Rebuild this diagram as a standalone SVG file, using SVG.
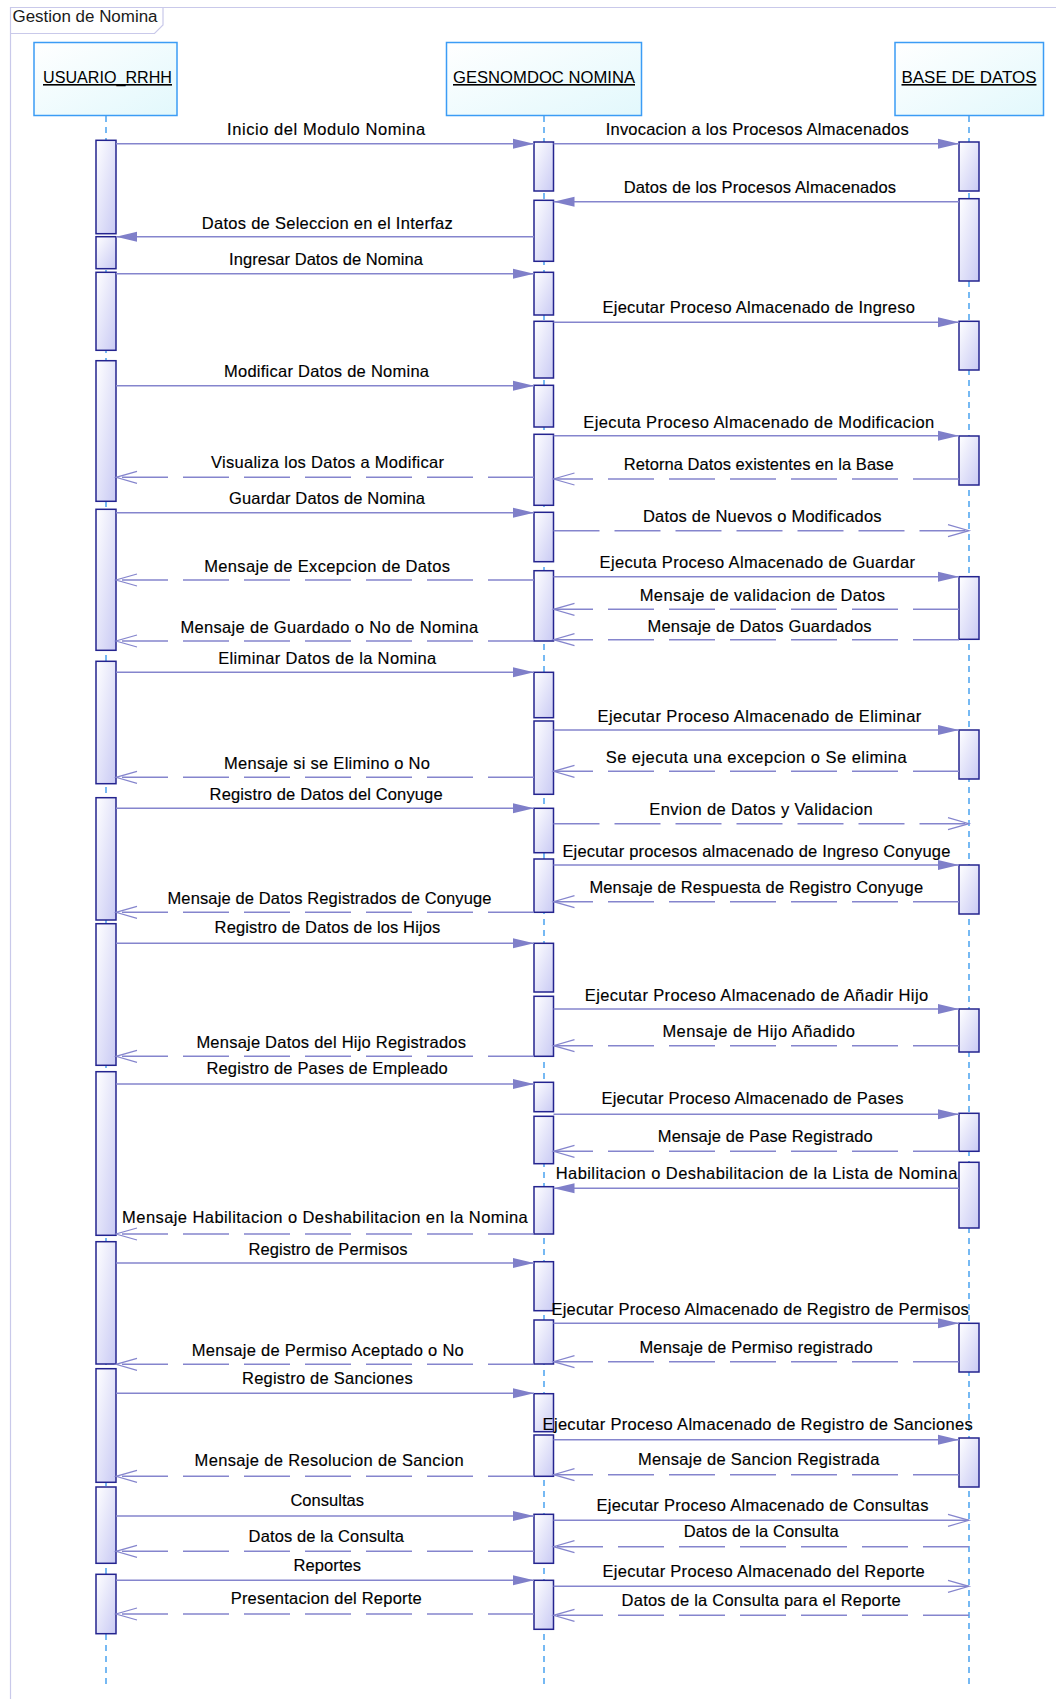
<svg xmlns="http://www.w3.org/2000/svg" width="1056" height="1699" viewBox="0 0 1056 1699">
<style>
.frame{fill:none;stroke:#c9c9ea;stroke-width:1.2}
.title{font-family:"Liberation Sans",Arial,sans-serif;font-size:16px;fill:#1a1a1a}
.hname{font-family:"Liberation Sans",Arial,sans-serif;font-size:16px;fill:#000;text-decoration:underline}
.head{fill:url(#gh);stroke:#3b9cf5;stroke-width:1.5}
.life{stroke:#4aa3f0;stroke-width:1.5;stroke-dasharray:6 5;fill:none}
.bar{fill:url(#gb);stroke:#24248f;stroke-width:1.5}
.msg{stroke:#8585cd;stroke-width:1.5;fill:none}
.sync{marker-end:url(#mf)}
.ret{stroke-dasharray:46 15;marker-end:url(#mo)}
.open{marker-end:url(#mo)}
.lbl{font-family:"Liberation Sans",Arial,sans-serif;font-size:16.5px;fill:#000;stroke:#000;stroke-width:0.15}
</style>
<defs>
<linearGradient id="gh" x1="0" y1="0" x2="1" y2="1"><stop offset="0" stop-color="#ffffff"/><stop offset="1" stop-color="#e2f8fc"/></linearGradient>
<linearGradient id="gb" x1="0" y1="0" x2="1" y2="1"><stop offset="0" stop-color="#ffffff"/><stop offset="1" stop-color="#c9caf4"/></linearGradient>
<marker id="mf" markerUnits="userSpaceOnUse" markerWidth="24" markerHeight="12" refX="21" refY="5" orient="auto" overflow="visible"><path d="M0,0 L21,5 L0,10 z" fill="#7f7fc9"/></marker>
<marker id="mo" markerUnits="userSpaceOnUse" markerWidth="24" markerHeight="14" refX="21" refY="7" orient="auto" overflow="visible"><path d="M0,1 L21,7 L0,13" fill="none" stroke="#8585cd" stroke-width="1.2"/></marker>
</defs>
<rect width="1056" height="1699" fill="#ffffff"/>
<g id="frame">
<path class="frame" d="M10.5,1699 L10.5,7.5 L1056,7.5"/>
<path class="frame" d="M10.5,33.5 L154.5,33.5 L163,25 L163,7.5"/>
<text class="title" x="12.5" y="22" textLength="145" lengthAdjust="spacingAndGlyphs">Gestion de Nomina</text>
</g>
<g id="usuario_rrhh">
<rect class="head" x="34" y="42.5" width="143" height="73"/>
<text class="hname" x="43" y="83" textLength="129" lengthAdjust="spacingAndGlyphs">USUARIO_RRHH</text>
<line class="life" x1="106" y1="116" x2="106" y2="1687"/>
<rect class="bar" x="96" y="140.3" width="20" height="93.4"/>
<rect class="bar" x="96" y="236.7" width="20" height="32"/>
<rect class="bar" x="96" y="272.3" width="20" height="78"/>
<rect class="bar" x="96" y="360.7" width="20" height="140.6"/>
<rect class="bar" x="96" y="509.3" width="20" height="141"/>
<rect class="bar" x="96" y="661.3" width="20" height="122.4"/>
<rect class="bar" x="96" y="797.7" width="20" height="122.3"/>
<rect class="bar" x="96" y="923.7" width="20" height="141.6"/>
<rect class="bar" x="96" y="1071.7" width="20" height="163.6"/>
<rect class="bar" x="96" y="1241.7" width="20" height="122.3"/>
<rect class="bar" x="96" y="1368.7" width="20" height="113.6"/>
<rect class="bar" x="96" y="1487" width="20" height="76.3"/>
<rect class="bar" x="96" y="1574.3" width="20" height="59.4"/>
</g>
<g id="gesnomdoc_nomina">
<rect class="head" x="446.5" y="42.5" width="195" height="73"/>
<text class="hname" x="453" y="83" textLength="182" lengthAdjust="spacingAndGlyphs">GESNOMDOC NOMINA</text>
<line class="life" x1="544" y1="116" x2="544" y2="1687"/>
<rect class="bar" x="534" y="142" width="19.5" height="49"/>
<rect class="bar" x="534" y="200.3" width="19.5" height="61"/>
<rect class="bar" x="534" y="272.3" width="19.5" height="42.7"/>
<rect class="bar" x="534" y="321.3" width="19.5" height="56.7"/>
<rect class="bar" x="534" y="385.3" width="19.5" height="41.7"/>
<rect class="bar" x="534" y="434.3" width="19.5" height="71"/>
<rect class="bar" x="534" y="512.3" width="19.5" height="49.4"/>
<rect class="bar" x="534" y="570.7" width="19.5" height="70.3"/>
<rect class="bar" x="534" y="672.3" width="19.5" height="45.4"/>
<rect class="bar" x="534" y="721" width="19.5" height="73.3"/>
<rect class="bar" x="534" y="808.3" width="19.5" height="44.4"/>
<rect class="bar" x="534" y="859" width="19.5" height="53.3"/>
<rect class="bar" x="534" y="943.3" width="19.5" height="48.7"/>
<rect class="bar" x="534" y="996.3" width="19.5" height="60"/>
<rect class="bar" x="534" y="1082.3" width="19.5" height="29.4"/>
<rect class="bar" x="534" y="1116.3" width="19.5" height="47.4"/>
<rect class="bar" x="534" y="1186.7" width="19.5" height="47.3"/>
<rect class="bar" x="534" y="1261.7" width="19.5" height="49"/>
<rect class="bar" x="534" y="1320" width="19.5" height="44"/>
<rect class="bar" x="534" y="1393.7" width="19.5" height="38"/>
<rect class="bar" x="534" y="1435" width="19.5" height="41.3"/>
<rect class="bar" x="534" y="1514.3" width="19.5" height="49"/>
<rect class="bar" x="534" y="1580.3" width="19.5" height="49"/>
</g>
<g id="base_de_datos">
<rect class="head" x="895" y="42.5" width="148.5" height="73"/>
<text class="hname" x="901.5" y="83" textLength="135" lengthAdjust="spacingAndGlyphs">BASE DE DATOS</text>
<line class="life" x1="969" y1="116" x2="969" y2="1687"/>
<rect class="bar" x="959" y="142" width="20" height="49"/>
<rect class="bar" x="959" y="198.7" width="20" height="82.3"/>
<rect class="bar" x="959" y="321.3" width="20" height="48.7"/>
<rect class="bar" x="959" y="436" width="20" height="49"/>
<rect class="bar" x="959" y="576.7" width="20" height="62.6"/>
<rect class="bar" x="959" y="730" width="20" height="49"/>
<rect class="bar" x="959" y="865" width="20" height="49"/>
<rect class="bar" x="959" y="1009" width="20" height="43"/>
<rect class="bar" x="959" y="1113.3" width="20" height="38"/>
<rect class="bar" x="959" y="1162.3" width="20" height="65.7"/>
<rect class="bar" x="959" y="1323.3" width="20" height="48.7"/>
<rect class="bar" x="959" y="1438" width="20" height="49"/>
</g>
<g id="connectors">
<path class="msg sync" d="M116,143.7 L534,143.7"/><text class="lbl" x="227.1" y="135" textLength="198">Inicio del Modulo Nomina</text>
<path class="msg sync" d="M534,236.7 L116,236.7"/><text class="lbl" x="201.8" y="229" textLength="251">Datos de Seleccion en el Interfaz</text>
<path class="msg sync" d="M116,273.7 L534,273.7"/><text class="lbl" x="229" y="265" textLength="194">Ingresar Datos de Nomina</text>
<path class="msg sync" d="M116,385.7 L534,385.7"/><text class="lbl" x="224" y="376.7" textLength="205">Modificar Datos de Nomina</text>
<path class="msg ret" d="M534,477.3 L116,477.3"/><text class="lbl" x="211" y="468.3" textLength="233">Visualiza los Datos a Modificar</text>
<path class="msg sync" d="M116,512.7 L534,512.7"/><text class="lbl" x="229" y="504" textLength="196">Guardar Datos de Nomina</text>
<path class="msg ret" d="M534,580 L116,580"/><text class="lbl" x="204.3" y="571.7" textLength="245.7">Mensaje de Excepcion de Datos</text>
<path class="msg ret" d="M534,641 L116,641"/><text class="lbl" x="180.4" y="632.7" textLength="297.8">Mensaje de Guardado o No de Nomina</text>
<path class="msg sync" d="M116,672.3 L534,672.3"/><text class="lbl" x="218.2" y="664" textLength="218">Eliminar Datos de la Nomina</text>
<path class="msg ret" d="M534,777.3 L116,777.3"/><text class="lbl" x="224" y="769" textLength="206">Mensaje si se Elimino o No</text>
<path class="msg sync" d="M116,808.3 L534,808.3"/><text class="lbl" x="209.6" y="800" textLength="233">Registro de Datos del Conyuge</text>
<path class="msg ret" d="M534,912.3 L116,912.3"/><text class="lbl" x="167.5" y="904" textLength="324">Mensaje de Datos Registrados de Conyuge</text>
<path class="msg sync" d="M116,943.3 L534,943.3"/><text class="lbl" x="214.6" y="932.7" textLength="225.7">Registro de Datos de los Hijos</text>
<path class="msg ret" d="M534,1056.3 L116,1056.3"/><text class="lbl" x="196.4" y="1048" textLength="269.6">Mensaje Datos del Hijo Registrados</text>
<path class="msg sync" d="M116,1084 L534,1084"/><text class="lbl" x="206.4" y="1074" textLength="241.4">Registro de Pases de Empleado</text>
<path class="msg ret" d="M534,1234 L116,1234"/><text class="lbl" x="122.1" y="1223.3" textLength="405.7">Mensaje Habilitacion o Deshabilitacion en la Nomina</text>
<path class="msg sync" d="M116,1263 L534,1263"/><text class="lbl" x="248.6" y="1255" textLength="159">Registro de Permisos</text>
<path class="msg ret" d="M534,1364.3 L116,1364.3"/><text class="lbl" x="191.8" y="1355.7" textLength="272">Mensaje de Permiso Aceptado o No</text>
<path class="msg sync" d="M116,1393.3 L534,1393.3"/><text class="lbl" x="242" y="1384" textLength="170.7">Registro de Sanciones</text>
<path class="msg ret" d="M534,1476.3 L116,1476.3"/><text class="lbl" x="194.6" y="1466" textLength="269">Mensaje de Resolucion de Sancion</text>
<path class="msg sync" d="M116,1516 L534,1516"/><text class="lbl" x="290.4" y="1505.7" textLength="73.6">Consultas</text>
<path class="msg ret" d="M534,1551.3 L116,1551.3"/><text class="lbl" x="248.6" y="1542" textLength="155.4">Datos de la Consulta</text>
<path class="msg sync" d="M116,1580.3 L534,1580.3"/><text class="lbl" x="293.6" y="1570.7" textLength="67.5">Reportes</text>
<path class="msg ret" d="M534,1614 L116,1614"/><text class="lbl" x="230.7" y="1604" textLength="191">Presentacion del Reporte</text>

<path class="msg sync" d="M553.5,143.7 L959,143.7"/><text class="lbl" x="605.7" y="135" textLength="303">Invocacion a los Procesos Almacenados</text>
<path class="msg sync" d="M959,201.7 L553.5,201.7"/><text class="lbl" x="623.8" y="192.7" textLength="272.3">Datos de los Procesos Almacenados</text>
<path class="msg sync" d="M553.5,322.3 L959,322.3"/><text class="lbl" x="602.5" y="313.3" textLength="312.4">Ejecutar Proceso Almacenado de Ingreso</text>
<path class="msg sync" d="M553.5,435.7 L959,435.7"/><text class="lbl" x="583.3" y="427.7" textLength="351">Ejecuta Proceso Almacenado de Modificacion</text>
<path class="msg ret" d="M959,479 L553.5,479"/><text class="lbl" x="623.8" y="470" textLength="269.8">Retorna Datos existentes en la Base</text>
<path class="msg ret" d="M553.5,530.7 L969,530.7"/><text class="lbl" x="642.9" y="522.3" textLength="238.7">Datos de Nuevos o Modificados</text>
<path class="msg sync" d="M553.5,576.7 L959,576.7"/><text class="lbl" x="599.6" y="568.3" textLength="315.3">Ejecuta Proceso Almacenado de Guardar</text>
<path class="msg ret" d="M959,609.3 L553.5,609.3"/><text class="lbl" x="639.7" y="600.7" textLength="245.4">Mensaje de validacion de Datos</text>
<path class="msg ret" d="M959,639.7 L553.5,639.7"/><text class="lbl" x="647.5" y="631.7" textLength="224.1">Mensaje de Datos Guardados</text>
<path class="msg sync" d="M553.5,730 L959,730"/><text class="lbl" x="597.5" y="721.7" textLength="323.8">Ejecutar Proceso Almacenado de Eliminar</text>
<path class="msg ret" d="M959,771.3 L553.5,771.3"/><text class="lbl" x="605.7" y="762.7" textLength="301">Se ejecuta una excepcion o Se elimina</text>
<path class="msg ret" d="M553.5,823.7 L969,823.7"/><text class="lbl" x="649.3" y="814.7" textLength="223.4">Envion de Datos y Validacion</text>
<path class="msg sync" d="M553.5,865 L959,865"/><text class="lbl" x="562.4" y="856.7" textLength="388">Ejecutar procesos almacenado de Ingreso Conyuge</text>
<path class="msg ret" d="M959,901.7 L553.5,901.7"/><text class="lbl" x="589.4" y="892.7" textLength="333.7">Mensaje de Respuesta de Registro Conyuge</text>
<path class="msg sync" d="M553.5,1009 L959,1009"/><text class="lbl" x="584.8" y="1000.7" textLength="343.3">Ejecutar Proceso Almacenado de Añadir Hijo</text>
<path class="msg ret" d="M959,1045.7 L553.5,1045.7"/><text class="lbl" x="662.4" y="1036.7" textLength="192.6">Mensaje de Hijo Añadido</text>
<path class="msg sync" d="M553.5,1114.3 L959,1114.3"/><text class="lbl" x="601.4" y="1104.3" textLength="302.1">Ejecutar Proceso Almacenado de Pases</text>
<path class="msg ret" d="M959,1151.3 L553.5,1151.3"/><text class="lbl" x="657.8" y="1141.7" textLength="214.9">Mensaje de Pase Registrado</text>
<path class="msg sync" d="M959,1188.3 L553.5,1188.3"/><text class="lbl" x="555.7" y="1179" textLength="401.7">Habilitacion o Deshabilitacion de la Lista de Nomina</text>
<path class="msg sync" d="M553.5,1323.3 L959,1323.3"/><text class="lbl" x="551.4" y="1314.7" textLength="417.4">Ejecutar Proceso Almacenado de Registro de Permisos</text>
<path class="msg ret" d="M959,1361.7 L553.5,1361.7"/><text class="lbl" x="639.4" y="1352.7" textLength="233.3">Mensaje de Permiso registrado</text>
<path class="msg sync" d="M553.5,1439.7 L959,1439.7"/><text class="lbl" x="542.6" y="1430" textLength="430.1">Ejecutar Proceso Almacenado de Registro de Sanciones</text>
<path class="msg ret" d="M959,1474.7 L553.5,1474.7"/><text class="lbl" x="637.9" y="1465" textLength="241.5">Mensaje de Sancion Registrada</text>
<path class="msg open" d="M553.5,1520.3 L969,1520.3"/><text class="lbl" x="596.5" y="1511" textLength="332">Ejecutar Proceso Almacenado de Consultas</text>
<path class="msg ret" d="M969,1546.7 L553.5,1546.7"/><text class="lbl" x="683.7" y="1536.7" textLength="155">Datos de la Consulta</text>
<path class="msg open" d="M553.5,1586.3 L969,1586.3"/><text class="lbl" x="602.5" y="1576.7" textLength="322.3">Ejecutar Proceso Almacenado del Reporte</text>
<path class="msg ret" d="M969,1615.3 L553.5,1615.3"/><text class="lbl" x="621.6" y="1606" textLength="279.1">Datos de la Consulta para el Reporte</text>
</g>
</svg>
